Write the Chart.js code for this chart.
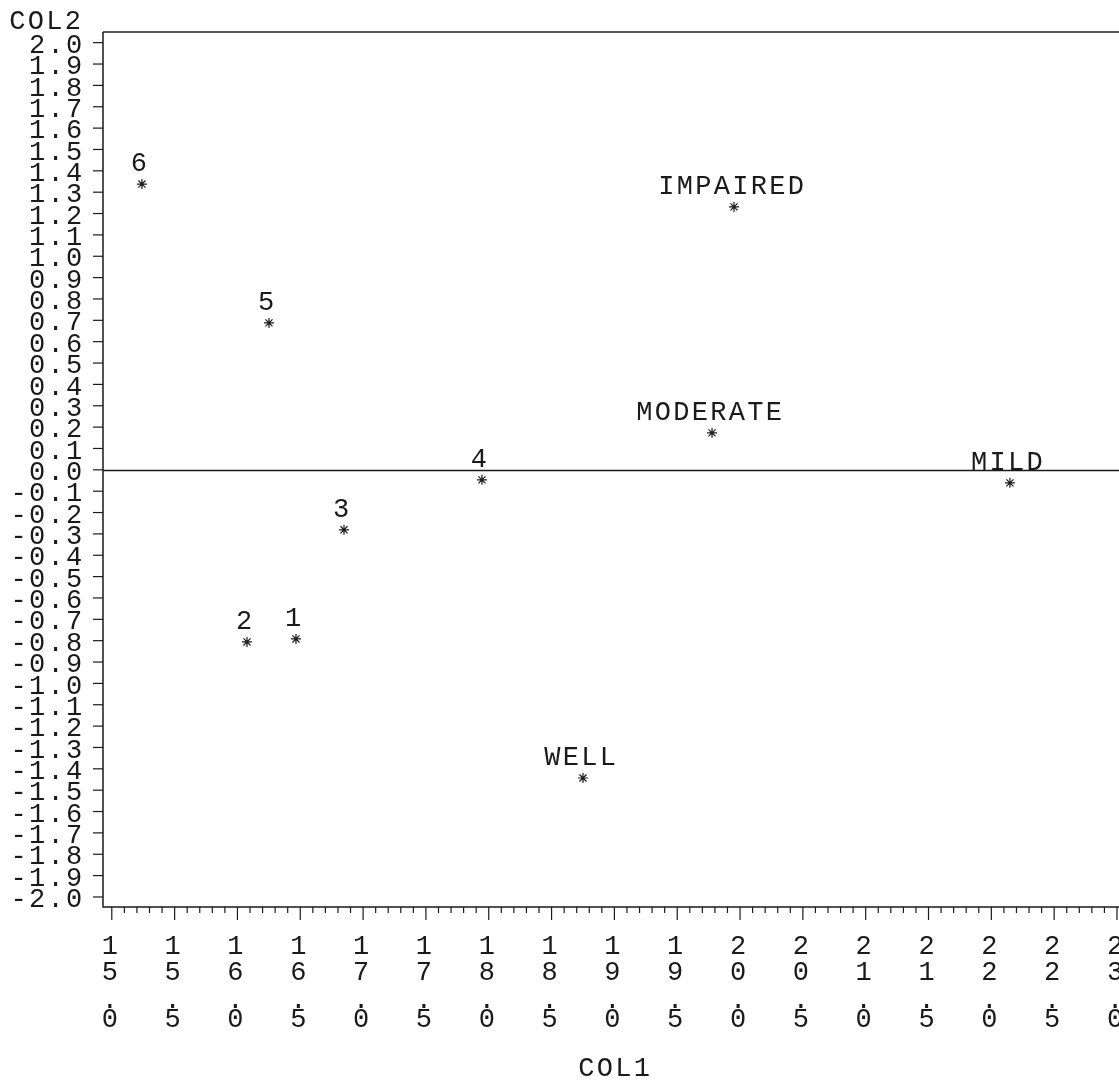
<!DOCTYPE html>
<html>
<head>
<meta charset="utf-8">
<title>COL2 by COL1</title>
<script src="https://cdn.jsdelivr.net/npm/chart.js@4.4.1/dist/chart.umd.min.js"></script>
<style>
  html, body { margin: 0; padding: 0; background: #fff; }
  #plot { display: block; }
</style>
</head>
<body>
<canvas id="plot" width="1119" height="1081"></canvas>
<script>
// values
const pointLabels = ['1', '2', '3', '4', '5', '6', 'WELL', 'MILD', 'MODERATE', 'IMPAIRED'];
const col1 = [16.466, 16.076, 16.848, 17.946, 16.251, 15.240, 18.750, 22.148, 19.777, 19.952];
const col2 = [-0.792, -0.806, -0.281, -0.047, 0.688, 1.338, -1.443, -0.061, 0.173, 1.231];

const xTickLabels = ['15.0', '15.5', '16.0', '16.5', '17.0', '17.5', '18.0', '18.5', '19.0',
  '19.5', '20.0', '20.5', '21.0', '21.5', '22.0', '22.5', '23.0'];
const yTickLabels = ['2.0', '1.9', '1.8', '1.7', '1.6', '1.5', '1.4', '1.3', '1.2', '1.1', '1.0',
  '0.9', '0.8', '0.7', '0.6', '0.5', '0.4', '0.3', '0.2', '0.1', '0.0',
  '-0.1', '-0.2', '-0.3', '-0.4', '-0.5', '-0.6', '-0.7', '-0.8', '-0.9', '-1.0',
  '-1.1', '-1.2', '-1.3', '-1.4', '-1.5', '-1.6', '-1.7', '-1.8', '-1.9', '-2.0'];

const FONT = '27px "Liberation Mono", "DejaVu Sans Mono", monospace';
const PITCH = 18.5;
const INK = '#1a1a1a';

// draw a string one character at a time, centred on cx
function spaced(ctx, text, cx, cy) {
  const n = text.length;
  for (let i = 0; i < n; i++) {
    ctx.fillText(text[i], cx + (i - (n - 1) / 2) * PITCH, cy);
  }
}

const printerPlot = {
  id: 'printerPlot',
  beforeDatasetsDraw(chart) {
    const { ctx, chartArea: a, scales: { x, y } } = chart;
    ctx.save();
    ctx.strokeStyle = INK;
    ctx.fillStyle = INK;

    // frame: top, left, bottom (no right side)
    ctx.lineWidth = 2;
    ctx.strokeStyle = '#555';
    ctx.beginPath();
    ctx.moveTo(a.left, a.top);
    ctx.lineTo(a.right, a.top);
    ctx.stroke();
    ctx.strokeStyle = INK;
    ctx.lineWidth = 1.5;
    ctx.beginPath();
    ctx.moveTo(a.left, a.top);
    ctx.lineTo(a.left, a.bottom);
    ctx.lineTo(a.right, a.bottom);
    ctx.stroke();

    // reference line at COL2 = 0
    const y0 = Math.round(y.getPixelForValue(0)) + 0.5;
    ctx.lineWidth = 1.5;
    ctx.beginPath();
    ctx.moveTo(a.left, y0);
    ctx.lineTo(a.right, y0);
    ctx.stroke();

    // y ticks and labels
    ctx.font = FONT;
    ctx.textAlign = 'center';
    ctx.textBaseline = 'middle';
    ctx.lineWidth = 1.2;
    yTickLabels.forEach(lab => {
      const py = y.getPixelForValue(parseFloat(lab));
      ctx.beginPath();
      ctx.moveTo(a.left - 10, py);
      ctx.lineTo(a.left, py);
      ctx.stroke();
      const n = lab.length;
      for (let i = 0; i < n; i++) {
        ctx.fillText(lab[i], 74 - (n - 1 - i) * PITCH, py + 3);
      }
    });

    // x minor ticks every 0.1, major every 0.5
    const first = parseFloat(xTickLabels[0]);
    const last = parseFloat(xTickLabels[xTickLabels.length - 1]);
    for (let k = 0; k <= Math.round((last - first) * 10); k++) {
      const px = x.getPixelForValue(first + k / 10);
      ctx.beginPath();
      ctx.moveTo(px, a.bottom);
      ctx.lineTo(px, a.bottom + (k % 5 === 0 ? 13 : 6));
      ctx.stroke();
    }

    // x labels, written vertically one character per row
    xTickLabels.forEach(lab => {
      const px = x.getPixelForValue(parseFloat(lab)) - 2;
      const ch = lab.replace('.', '');
      ctx.textBaseline = 'middle';
      ctx.fillText(ch[0], px, 947);
      ctx.fillText(ch[1], px, 973);
      ctx.fillText(ch[2], px, 1020);
      ctx.textBaseline = 'alphabetic';
      ctx.fillText('.', px, 1008);
    });

    // axis titles
    ctx.textBaseline = 'middle';
    spaced(ctx, 'COL2', 45, 22);
    spaced(ctx, 'COL1', 614, 1069);
    ctx.restore();
  },
  afterDatasetsDraw(chart) {
    const { ctx } = chart;
    const meta = chart.getDatasetMeta(0);
    ctx.save();
    ctx.font = FONT;
    ctx.fillStyle = INK;
    ctx.textAlign = 'center';
    ctx.textBaseline = 'middle';
    meta.data.forEach((pt, i) => {
      spaced(ctx, pointLabels[i], pt.x - 3, pt.y - 20);
    });
    ctx.restore();
  }
};

new Chart(document.getElementById('plot'), {
  type: 'scatter',
  data: {
    datasets: [{
      label: 'COL2',
      data: col1.map((v, i) => ({ x: v, y: col2[i] })),
      pointStyle: 'star',
      radius: 5,
      borderWidth: 1.2,
      borderColor: INK,
      backgroundColor: INK
    }]
  },
  options: {
    responsive: false,
    animation: false,
    events: [],
    layout: { autoPadding: false, padding: { left: 103, top: 32, right: 0, bottom: 174 } },
    plugins: { legend: { display: false }, tooltip: { enabled: false } },
    scales: {
      x: { type: 'linear', min: 14.93, max: 23.016, display: false },
      y: { type: 'linear', min: -2.047, max: 2.05, display: false }
    }
  },
  plugins: [printerPlot]
});
</script>
</body>
</html>
